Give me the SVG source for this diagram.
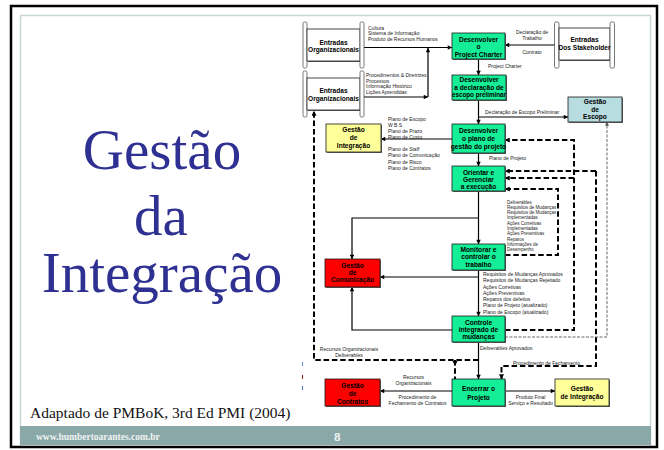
<svg xmlns="http://www.w3.org/2000/svg" width="664" height="450" viewBox="0 0 664 450">
<defs>
<marker id="ah" viewBox="0 0 10 10" refX="9.5" refY="5" markerWidth="5" markerHeight="4.5" markerUnits="userSpaceOnUse" orient="auto"><path d="M0,0L10,5L0,10z" fill="#000"/></marker>
<marker id="ahd" viewBox="0 0 10 10" refX="9.5" refY="5" markerWidth="5.5" markerHeight="5" markerUnits="userSpaceOnUse" orient="auto"><path d="M0,0L10,5L0,10z" fill="#000"/></marker>
<marker id="ahg" viewBox="0 0 10 10" refX="9.5" refY="5" markerWidth="4.5" markerHeight="4" markerUnits="userSpaceOnUse" orient="auto"><path d="M0,0L10,5L0,10z" fill="#555"/></marker>
</defs>
<style>
.bx{stroke:#1a1a1a;stroke-width:0.8}
.sh{fill:#666}
.g{fill:#14ee96}
.y{fill:#ffff99}
.r{fill:#ff0000}
.b{fill:#b8dde0}
.w{fill:#fff}
.bar{fill:#fff;stroke:#555;stroke-width:0.8}
.bt{font-family:"Liberation Sans",Arial,sans-serif;font-weight:bold;font-size:6.6px;text-anchor:middle;fill:#000}
.sm{font-family:"Liberation Sans",Arial,sans-serif;font-size:5px;fill:#222}
.xs{font-family:"Liberation Sans",Arial,sans-serif;font-size:4.5px;fill:#222}
.c{text-anchor:middle}
.ln{fill:none;stroke:#000;stroke-width:1.2}
.ds{fill:none;stroke:#000;stroke-width:2;stroke-dasharray:5.5 2.8}
.dg{fill:none;stroke:#666;stroke-width:1;stroke-dasharray:3 1.5}
.ttl{font-family:"Liberation Serif","Times New Roman",serif;font-size:57px;fill:#2e3192;text-anchor:middle}
</style>

<!-- slide frame -->
<rect x="0" y="0" width="664" height="450" fill="#fff"/>
<rect x="20.5" y="15.5" width="630" height="431" fill="#fff" stroke="#c8d6d9" stroke-width="1.5"/>
<rect x="20" y="426" width="631" height="19" fill="#8aa8a8"/>
<rect x="11" y="6" width="646" height="441" fill="none" stroke="#000" stroke-width="2.5"/>
<text x="36" y="439.5" font-family="Liberation Serif,serif" font-weight="bold" font-size="9.5" fill="#eef2f2">www.humbertoarantes.com.br</text>
<text x="334" y="441" font-family="Liberation Serif,serif" font-weight="bold" font-size="13" fill="#eef2f2">8</text>

<!-- title -->
<g id="title">
<text class="ttl" x="162" y="169">Gestão</text>
<text class="ttl" x="161" y="235">da</text>
<text class="ttl" x="162" y="292">Integração</text>
</g>
<text x="30" y="417.5" font-family="Liberation Serif,serif" font-size="15.5" fill="#111">Adaptado de PMBoK, 3rd Ed PMI (2004)</text>

<!-- tiny marks -->
<g id="marks" stroke-width="1">
<line x1="302.5" y1="362" x2="302.5" y2="366" stroke="#6a8ad8"/>
<line x1="302.5" y1="375" x2="302.5" y2="379" stroke="#8a2020"/>
<line x1="302.5" y1="386" x2="302.5" y2="390" stroke="#4a6ac8"/>
</g>

<!-- connectors -->
<g id="connectors">
<path class="ln" d="M364,47.5H452" marker-end="url(#ah)"/>
<path class="ln" d="M364,97H428" marker-end="url(#ah)"/>
<path class="ln" d="M428,97V48" marker-end="url(#ah)"/>
<path class="ln" d="M559,45H505" marker-end="url(#ah)"/>
<path class="ln" d="M478.5,59V75" marker-end="url(#ah)"/>
<path class="ln" d="M478.5,100V124" marker-end="url(#ah)"/>
<path class="ln" d="M478.5,117H568" marker-end="url(#ah)"/>
<path class="ln" d="M452,139H381" marker-end="url(#ah)"/>
<path class="ln" d="M478.5,153V166" marker-end="url(#ah)"/>
<path class="ln" d="M478.5,191V244" marker-end="url(#ah)"/>
<path class="ln" d="M478.5,218H352V259" marker-end="url(#ah)"/>
<path class="ln" d="M478.5,270V316" marker-end="url(#ah)"/>
<path class="ln" d="M478.5,277H380" marker-end="url(#ah)"/>
<path class="ln" d="M452,330H352V287" marker-end="url(#ah)"/>
<path class="ln" d="M478.5,342V379" marker-end="url(#ah)"/>
<path class="ln" d="M452,391H380" marker-end="url(#ah)"/>
<path class="ln" d="M505,391H555" marker-end="url(#ah)"/>

<path class="ds" d="M505,330H574V140H505" marker-end="url(#ahd)"/>
<path class="ds" d="M574,178H505" marker-end="url(#ahd)"/>
<path class="ds" d="M596,171H505" marker-end="url(#ahd)"/>
<path class="ds" d="M596,171V366H501.5V379" marker-end="url(#ahd)"/>
<path class="ds" d="M505,255H558V189H505" marker-end="url(#ahd)"/>
<path class="dg" d="M505,337H607V122" marker-end="url(#ahg)"/>
<path class="ds" d="M478.5,360H314V111" marker-end="url(#ahd)"/>
<path class="ds" d="M455,360V379"/>
<path d="M452.5,361L457.5,361L455,366z" fill="#000"/>

<text class="sm" x="368" y="30">Cultura</text>
<text class="sm" x="368" y="35">Sistema de Informação</text>
<text class="sm" x="368" y="41">Produto de Recursos Humanos</text>
<text class="sm" x="366" y="77">Procedimentos &amp; Diretrizes</text>
<text class="sm" x="366" y="82.5">Processos</text>
<text class="sm" x="366" y="88">Informação Histórico</text>
<text class="sm" x="366" y="94">Lições Aprendidas</text>
<text class="sm c" x="532" y="34">Declaração de</text>
<text class="sm c" x="532" y="40">Trabalho</text>
<text class="sm c" x="532" y="53.5">Contrato</text>
<text class="sm" x="488" y="68">Project Charter</text>
<text class="sm" x="485" y="114">Declaração de Escopo Preliminar</text>
<text class="sm" x="388" y="121">Plano de Escopo</text>
<text class="sm" x="388" y="127">W B S</text>
<text class="sm" x="388" y="132.5">Plano de Prazo</text>
<text class="sm" x="388" y="138.5">Plano de Custo</text>
<text class="sm" x="388" y="151">Plano de Staff</text>
<text class="sm" x="388" y="157">Plano de Comunicação</text>
<text class="sm" x="388" y="163.5">Plano de Risco</text>
<text class="sm" x="388" y="169.5">Plano de Contratos</text>
<text class="sm" x="489" y="160">Plano de Projeto</text>
<text class="xs" x="507" y="203.5">Deliverables</text>
<text class="xs" x="507" y="208.5">Requisitos de Mudanças</text>
<text class="xs" x="507" y="213.8">Requisitos de Mudanças</text>
<text class="xs" x="507" y="219">Implementadas</text>
<text class="xs" x="507" y="224.5">Ações Corretivas</text>
<text class="xs" x="507" y="229.8">Implementadas</text>
<text class="xs" x="507" y="235">Ações Preventivas</text>
<text class="xs" x="507" y="240.5">Reparos</text>
<text class="xs" x="507" y="245.8">Informações de</text>
<text class="xs" x="507" y="251">Desempenho</text>
<text class="sm" x="483" y="276">Requisitos de Mudanças Aprovados</text>
<text class="sm" x="483" y="282">Requisitos de Mudanças Rejeitado</text>
<text class="sm" x="483" y="288.5">Ações Corretivas</text>
<text class="sm" x="483" y="295">Ações Preventivas</text>
<text class="sm" x="483" y="301">Reparos dos defeitos</text>
<text class="sm" x="483" y="307">Plano de Projeto (atualizado)</text>
<text class="sm" x="483" y="313.5">Plano de Escopo (atualizado)</text>
<text class="sm" x="480" y="350">Deliverables Aprovados</text>
<text class="sm" x="513" y="364.5">Procedimento de Fechamento</text>
<text class="sm c" x="349" y="351">Recursos Organizacionais</text>
<text class="sm c" x="349" y="357">Deliverables</text>
<text class="sm c" x="413.5" y="379">Recursos</text>
<text class="sm c" x="413.5" y="385">Organizacionais</text>
<text class="sm c" x="417.5" y="399">Procedimento de</text>
<text class="sm c" x="417.5" y="405">Fechamento de Contratos</text>
<text class="sm c" x="530.5" y="399">Produto Final</text>
<text class="sm c" x="530.5" y="405">Serviço e Resultado</text>
</g>

<!-- nodes -->
<g id="entradas1">
<rect class="bar" x="303" y="22" width="4" height="46" rx="1.5"/>
<rect class="sh" x="308" y="30" width="53" height="32"/>
<rect class="w bx" x="307" y="29" width="53" height="32"/>
<rect class="bar" x="360" y="22" width="4" height="46" rx="1.5"/>
<text class="bt" x="333.5" y="45">Entradas</text>
<text class="bt" x="333.5" y="52">Organizacionais</text>
</g>
<g id="entradas2">
<rect class="bar" x="303" y="71" width="4" height="46" rx="1.5"/>
<rect class="sh" x="308" y="79" width="53" height="32"/>
<rect class="w bx" x="307" y="78" width="53" height="32"/>
<rect class="bar" x="360" y="71" width="4" height="46" rx="1.5"/>
<text class="bt" x="333.5" y="93">Entradas</text>
<text class="bt" x="333.5" y="100.5">Organizacionais</text>
</g>
<g id="stakeholder">
<rect class="bar" x="554.5" y="22" width="4.5" height="46" rx="1.5"/>
<rect class="sh" x="560" y="29" width="51" height="32"/>
<rect class="w bx" x="559" y="28" width="51" height="32"/>
<rect class="bar" x="610" y="22" width="4.5" height="46" rx="1.5"/>
<text class="bt" x="584.5" y="42">Entradas</text>
<text class="bt" x="584.5" y="49.5">Dos Stakeholder</text>
</g>
<g id="charter">
<rect class="sh" x="453" y="34" width="53" height="26"/>
<rect class="g bx" x="452" y="33" width="53" height="26"/>
<text class="bt" x="478.5" y="42">Desenvolver</text>
<text class="bt" x="478.5" y="49">o</text>
<text class="bt" x="478.5" y="56.5">Project Charter</text>
</g>
<g id="declaracao">
<rect class="sh" x="453" y="76" width="54" height="25"/>
<rect class="g bx" x="452" y="75" width="54" height="25"/>
<text class="bt" x="479" y="82">Desenvolver</text>
<text class="bt" x="479" y="89.5">a declaração  de</text>
<text class="bt" x="479" y="97" textLength="54" lengthAdjust="spacingAndGlyphs">escopo preliminar</text>
</g>
<g id="escopo">
<rect class="sh" x="569" y="98" width="54" height="25"/>
<rect class="b bx" x="568" y="97" width="54" height="25"/>
<text class="bt" x="595" y="104">Gestão</text>
<text class="bt" x="595" y="111.5">de</text>
<text class="bt" x="595" y="119">Escopo</text>
</g>
<g id="integracao1">
<rect class="sh" x="327" y="125" width="55" height="28"/>
<rect class="y bx" x="326" y="124" width="55" height="28"/>
<text class="bt" x="353.5" y="131.5">Gestão</text>
<text class="bt" x="353.5" y="140">de</text>
<text class="bt" x="353.5" y="148">Integração</text>
</g>
<g id="plano">
<rect class="sh" x="453" y="125" width="53" height="29"/>
<rect class="g bx" x="452" y="124" width="53" height="29"/>
<text class="bt" x="478.5" y="133">Desenvolver</text>
<text class="bt" x="478.5" y="141">o plano de</text>
<text class="bt" x="478.5" y="148.5">gestão do projeto</text>
</g>
<g id="orientar">
<rect class="sh" x="453" y="167" width="53" height="25"/>
<rect class="g bx" x="452" y="166" width="53" height="25"/>
<text class="bt" x="478.5" y="174.5">Orientar e</text>
<text class="bt" x="478.5" y="181.5">Gerenciar</text>
<text class="bt" x="478.5" y="189">a execução</text>
</g>
<g id="monitorar">
<rect class="sh" x="453" y="245" width="53" height="26"/>
<rect class="g bx" x="452" y="244" width="53" height="26"/>
<text class="bt" x="478.5" y="251.5">Monitorar e</text>
<text class="bt" x="478.5" y="259">controlar o</text>
<text class="bt" x="478.5" y="266.5">trabalho</text>
</g>
<g id="comunicacao">
<rect class="sh" x="326" y="260" width="55" height="28"/>
<rect class="r bx" x="325" y="259" width="55" height="28"/>
<text class="bt" x="352.5" y="267.5">Gestão</text>
<text class="bt" x="352.5" y="274.5">de</text>
<text class="bt" x="352.5" y="282">Comunicação</text>
</g>
<g id="controle">
<rect class="sh" x="453" y="317" width="53" height="26"/>
<rect class="g bx" x="452" y="316" width="53" height="26"/>
<text class="bt" x="478.5" y="324.5">Controle</text>
<text class="bt" x="478.5" y="331.5">integrado de</text>
<text class="bt" x="478.5" y="338.5">mudanças</text>
</g>
<g id="encerrar">
<rect class="sh" x="453" y="380" width="53" height="27"/>
<rect class="g bx" x="452" y="379" width="53" height="27"/>
<text class="bt" x="478.5" y="390.5">Encerrar o</text>
<text class="bt" x="478.5" y="399.5">Projeto</text>
</g>
<g id="contratos">
<rect class="sh" x="326" y="380" width="55" height="27"/>
<rect class="r bx" x="325" y="379" width="55" height="27"/>
<text class="bt" x="352.5" y="388">Gestão</text>
<text class="bt" x="352.5" y="396">de</text>
<text class="bt" x="352.5" y="403.5">Contratos</text>
</g>
<g id="integracao2">
<rect class="sh" x="556" y="380" width="54" height="27"/>
<rect class="y bx" x="555" y="379" width="54" height="27"/>
<text class="bt" x="582" y="390.5">Gestão</text>
<text class="bt" x="582" y="398.5">de Integração</text>
</g>
</svg>
